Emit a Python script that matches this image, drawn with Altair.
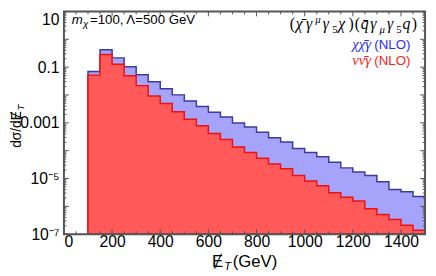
import altair as alt
import pandas as pd

# ---- data ----
bin_lo = [100, 150, 200, 250, 300, 350, 400, 450, 500, 550, 600, 650, 700, 750,
          800, 850, 900, 950, 1000, 1050, 1100, 1150, 1200, 1250, 1300, 1350, 1400, 1450]
x_end = 1500
chichi_nlo = [0.0692, 0.425, 0.215, 0.104, 0.053, 0.030, 0.0166, 0.0101, 0.0061, 0.00387,
              0.00238, 0.00163, 0.00098, 0.000707, 0.000457, 0.00029, 0.000203, 0.000119,
              8.6e-5, 6.0e-5, 3.83e-5, 2.41e-5, 1.70e-5, 1.29e-5, 7.6e-6, 4.06e-6, 3.37e-6, 2.25e-6]
nunu_nlo = [0.0517, 0.283, 0.126, 0.0489, 0.0217, 0.00914, 0.00494, 0.0025, 0.00135, 0.000785,
            0.000411, 0.000253, 0.000135, 8.6e-5, 5.3e-5, 3.34e-5, 2.23e-5, 1.29e-5,
            8.2e-6, 5.5e-6, 3.11e-6, 2.12e-6, 1.57e-6, 8.2e-7, 5.1e-7, 3.38e-7, 2.08e-7, 1.39e-7]
y_floor = 1e-7

x_tick_values = [0, 200, 400, 600, 800, 1000, 1200, 1400]
y_tick_values = [1e-7, 1e-5, 1e-3, 0.1, 10]

# ---- layout ----
W, H = 368, 227
OX, OY = 65, 9
SANS = "Liberation Sans"
SERIF = "Liberation Serif"
FRAME = "#555555"
BLUE_FILL, BLUE_EDGE = "#A6A4FA", "#3B3B9A"
RED_FILL, RED_EDGE = "#FF5959", "#F01010"

xs = alt.Scale(domain=[0, 1500], nice=False, zero=False)
ys = alt.Scale(type="log", domain=[1e-7, 10], nice=False)


def hist_df(vals):
    n = len(bin_lo) + 1
    return pd.DataFrame({"x": bin_lo + [x_end], "y": vals + [vals[-1]], "b": [y_floor] * n})


x_axis = alt.Axis(values=x_tick_values, format="d", title=None, grid=False, domain=False,
                  ticks=False, tickSize=0, labelPadding=0, labelFont=SANS, labelFontSize=16,
                  labelColor="black")
y_axis = alt.Axis(values=y_tick_values, title=None, grid=False, domain=False, ticks=False,
                  tickSize=0, labelPadding=5, labelFont=SANS, labelFontSize=16, labelColor="black",
                  labelBaseline={"condition": {"test": "datum.value > 1", "value": "top"},
                                 "value": "middle"},
                  labelExpr="datum.value > 1 ? '10' : datum.value > 0.01 ? '0.1' : "
                            "datum.value > 0.0001 ? '0.001' : datum.value > 0.000001 ? '10⁻⁵' : '10⁻⁷'")

X = lambda f: alt.X(f, scale=xs, axis=x_axis)
Y = lambda f: alt.Y(f, scale=ys, axis=y_axis)

blue = alt.Chart(hist_df(chichi_nlo)).mark_area(
    interpolate="step-after", fill=BLUE_FILL, fillOpacity=1, stroke=BLUE_EDGE, strokeWidth=1.5
).encode(x=X("x:Q"), y=Y("y:Q"), y2="b:Q")

red = alt.Chart(hist_df(nunu_nlo)).mark_area(
    interpolate="step-after", fill=RED_FILL, fillOpacity=1, stroke=RED_EDGE, strokeWidth=1.5
).encode(x=X("x:Q"), y=Y("y:Q"), y2="b:Q")

# ---- inward ticks on all four sides ----
x_major = x_tick_values
x_minor = [v for v in range(50, 1500, 50) if v % 200 != 0]
y_major = [10.0 ** d for d in range(-7, 2)]
y_minor = [k * 10.0 ** d for d in range(-7, 1) for k in range(2, 10)]


def xticks(vals, length):
    df = pd.DataFrame({"v": vals})
    base = alt.Chart(df).mark_rule(color=FRAME, strokeWidth=1)
    return (base.encode(x=X("v:Q"), y=alt.value(H), y2=alt.value(H - length)) +
            base.encode(x=X("v:Q"), y=alt.value(0), y2=alt.value(length)))


def yticks(vals, length):
    df = pd.DataFrame({"v": vals})
    base = alt.Chart(df).mark_rule(color=FRAME, strokeWidth=1)
    return (base.encode(y=Y("v:Q"), x=alt.value(0), x2=alt.value(length)) +
            base.encode(y=Y("v:Q"), x=alt.value(W), x2=alt.value(W - length)))


frame = alt.Chart(pd.DataFrame({"a": [0]})).mark_rect(
    fillOpacity=0, stroke=FRAME, strokeWidth=2
).encode(x=alt.value(0), x2=alt.value(W), y=alt.value(0), y2=alt.value(H))


def txt(s, px, py, size, color="black", font=SANS, style="normal", align="left", angle=0):
    kw = dict(align=align, baseline="alphabetic", font=font, fontSize=size,
              fontStyle=style, color=color)
    if angle:
        kw["angle"] = angle
    return alt.Chart(pd.DataFrame({"t": [s]})).mark_text(**kw).encode(
        x=alt.value(px - OX), y=alt.value(py - OY), text="t:N")


texts = []
# top-left parameters
texts.append(txt("m", 73, 22, 13.5, style="italic"))
texts.append(txt("χ", 84.5, 25, 10, style="italic"))
texts.append(txt("=100, Λ=500 GeV", 91.5, 22, 13.5))

# operator formula (top right)
formula = [("(", 0.00, "m", "normal"), ("χ̄", 0.33, "m", "italic"), ("γ", 0.88, "m", "italic"),
           ("μ", 1.38, "sup", "italic"), ("γ", 1.78, "m", "italic"), ("5", 2.28, "sub", "normal"),
           ("χ", 2.61, "m", "italic"), (")", 3.16, "m", "normal"), ("(", 3.49, "m", "normal"),
           ("q̄", 3.82, "m", "italic"), ("γ", 4.32, "m", "italic"), ("μ", 4.82, "sub", "italic"),
           ("γ", 5.22, "m", "italic"), ("5", 5.72, "sub", "normal"), ("q", 6.05, "m", "italic"),
           (")", 6.55, "m", "normal")]
for s, off, role, st in formula:
    px = 295 + off * 19
    if role == "m":
        texts.append(txt(s, px, 27, 16, font=SERIF, style=st))
    elif role == "sup":
        texts.append(txt(s, px, 21, 11, font=SERIF, style=st))
    else:
        texts.append(txt(s, px, 31, 11, font=SERIF, style=st))

# legend entries
texts.append(txt("χχ̄γ", 378, 47, 15, color="#2a2aff", font=SERIF, style="italic", align="right"))
texts.append(txt("(NLO)", 418, 47, 13.5, color="#2a2aff", align="right"))
texts.append(txt("νν̄γ", 378, 64, 15, color="#ff1a1a", font=SERIF, style="italic", align="right"))
texts.append(txt("(NLO)", 418, 64, 13.5, color="#ff1a1a", align="right"))

# axis titles
texts.append(txt("dσ/dɆ", 21.5, 148, 14, angle=270))
texts.append(txt("T", 24.5, 110, 10, style="italic", angle=270))
texts.append(txt("Ɇ", 216, 269, 17))
texts.append(txt("T", 228, 272, 12, style="italic"))
texts.append(txt("(GeV)", 237, 269, 17))

layers = [blue, red, xticks(x_major, 5), xticks(x_minor, 3), yticks(y_major, 5),
          yticks(y_minor, 2.5), frame] + texts

chart = alt.layer(*layers).properties(
    width=W, height=H,
    padding={"left": OX - 8, "top": OY - 8, "right": 3, "bottom": 36},
    autosize=alt.AutoSizeParams(type="none"),
).configure_view(stroke="transparent")

chart.save("out.html", embed_options={"renderer": "svg", "actions": False})
